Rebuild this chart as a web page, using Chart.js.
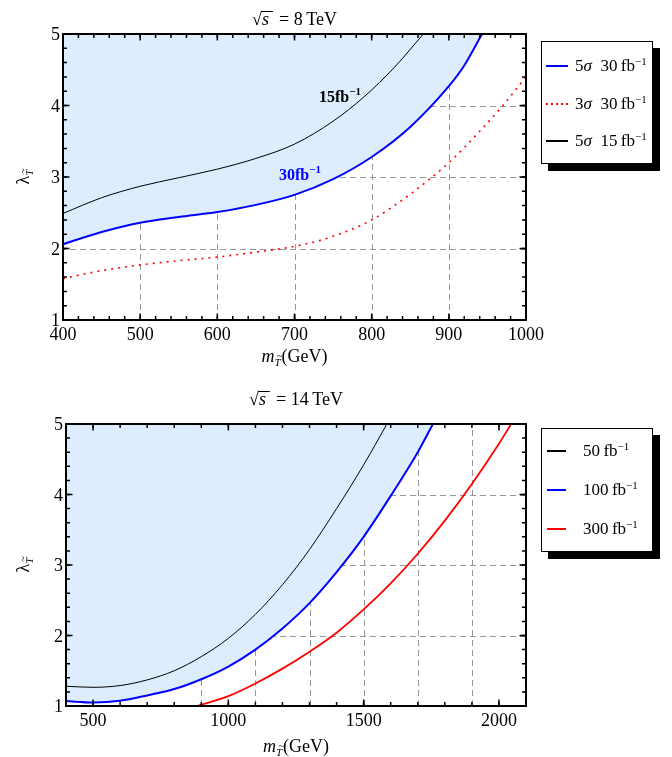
<!DOCTYPE html>
<html>
<head>
<meta charset="utf-8">
<script src="https://cdn.jsdelivr.net/npm/chart.js@4"></script>
<style>
  body { margin: 0; background: #fff; }
  #page { position: relative; width: 672px; height: 757px; }
  canvas { position: absolute; left: 0; }
  .legend { position: absolute; left: 541px; width: 110px; background: #fff; border: 1px solid #000;
    box-shadow: 7px 7px 0 #000; font-family: 'Liberation Serif', 'Times New Roman', serif; font-size: 17px; color: #000; }
  .row { position: absolute; left: 0; right: 0; height: 20px; line-height: 20px; white-space: nowrap; }
  .swatch { position: absolute; top: 9px; height: 2px; }
  .txt { position: absolute; top: 0; }
  sup { font-size: 11px; vertical-align: 6px; line-height: 0; }
</style>
</head>
<body>
<div id="page">
  <canvas id="chart8" width="672" height="380" style="top:0"></canvas>
  <canvas id="chart14" width="672" height="377" style="top:380px"></canvas>
  <div class="legend" id="legend8" style="top:41px;height:121px"></div>
  <div class="legend" id="legend14" style="top:428px;height:122px"></div>
</div>
<script>
// sqrt(s) = 8 TeV
let blue8X = [400, 450, 500, 550, 600, 650, 700, 750, 800, 850, 900, 920, 943]
let blue8Y = [2.06, 2.23, 2.36, 2.44, 2.51, 2.61, 2.75, 2.97, 3.28, 3.70, 4.27, 4.56, 5.0]
let red8X = [400, 450, 500, 550, 600, 650, 700, 750, 800, 850, 900, 940, 970, 1000]
let red8Y = [1.58, 1.69, 1.77, 1.83, 1.88, 1.95, 2.03, 2.17, 2.40, 2.76, 3.20, 3.64, 4.00, 4.40]
let black8X = [400, 450, 500, 550, 600, 650, 700, 750, 790, 830, 867]
let black8Y = [2.49, 2.71, 2.87, 2.99, 3.11, 3.26, 3.46, 3.78, 4.12, 4.54, 5.0]
let legend8 = ['5σ\u00a0\u00a030\u2009fb', '3σ\u00a0\u00a030\u2009fb', '5σ\u00a0\u00a015\u2009fb']
let notes8 = ['15fb', '30fb']
let notes8X = [759, 707]
let notes8Y = [4.13, 3.04]

// sqrt(s) = 14 TeV
let black14X = [400, 500, 600, 700, 800, 900, 1000, 1100, 1200, 1300, 1400, 1500, 1586]
let black14Y = [1.28, 1.265, 1.29, 1.37, 1.50, 1.70, 1.96, 2.30, 2.72, 3.22, 3.80, 4.42, 5.0]
let blue14X = [400, 500, 600, 700, 800, 900, 1000, 1100, 1200, 1300, 1400, 1500, 1600, 1700, 1756]
let blue14Y = [1.07, 1.05, 1.075, 1.15, 1.24, 1.38, 1.56, 1.80, 2.10, 2.46, 2.90, 3.40, 3.98, 4.60, 5.0]
let red14X = [885, 1000, 1100, 1200, 1300, 1400, 1500, 1600, 1700, 1800, 1900, 2000, 2045]
let red14Y = [1.0, 1.14, 1.32, 1.53, 1.77, 2.04, 2.37, 2.74, 3.16, 3.63, 4.15, 4.72, 5.0]
let legend14 = ['50\u2009fb', '100\u2009fb', '300\u2009fb']

// axes
let xTicks8 = [400, 500, 600, 700, 800, 900, 1000]
let xTicks14 = [500, 1000, 1500, 2000]
let yTicks = [1, 2, 3, 4, 5]
let gridX8 = [500, 600, 700, 800, 900]
let gridX14 = [900, 1100, 1300, 1500, 1700, 1900]
let gridY = [2, 3, 4]

const serif = "'Liberation Serif', 'Times New Roman', serif"
const shade = 'rgb(221, 237, 253)'

function lineDs(label, xs, ys, color, width, extra) {
  return Object.assign({
    label: label,
    data: xs.map((x, i) => ({ x: x, y: ys[i] })),
    borderColor: color,
    borderWidth: width,
    pointRadius: 0,
    showLine: true,
    cubicInterpolationMode: 'monotone',
    fill: false
  }, extra)
}

// draws a run of text pieces (font / vertical shift / tilde / overbar)
function drawParts(ctx, parts, x, y, align) {
  let total = 0
  parts.forEach(p => { ctx.font = p.font; p.w = ctx.measureText(p.t).width + (p.gap || 0); total += p.w })
  let cx = align === 'center' ? x - total / 2 : x
  ctx.textAlign = 'left'
  ctx.textBaseline = 'alphabetic'
  parts.forEach(p => {
    ctx.font = p.font
    ctx.fillText(p.t, cx, y + (p.dy || 0))
    if (p.tilde) {
      ctx.font = '10px ' + serif
      ctx.fillText('~', cx + p.w / 2 - 1, y + (p.dy || 0) - 7)
    }
    if (p.bar) {
      ctx.fillRect(cx - 1, y - 14, p.w + 3, 1)
    }
    cx += p.w
  })
}

const framePlugin = {
  id: 'frame',
  beforeDraw(chart, args, opts) {
    const { ctx, chartArea: a, scales: { x, y } } = chart
    ctx.save()
    ctx.strokeStyle = 'rgb(150,150,150)'
    ctx.lineWidth = 1
    ctx.setLineDash([6, 4])
    opts.gridX.forEach(v => {
      const px = Math.round(x.getPixelForValue(v)) + 0.5
      ctx.beginPath(); ctx.moveTo(px, a.bottom); ctx.lineTo(px, a.top); ctx.stroke()
    })
    opts.gridY.forEach(v => {
      const py = Math.round(y.getPixelForValue(v)) + 0.5
      ctx.beginPath(); ctx.moveTo(a.right, py); ctx.lineTo(a.left, py); ctx.stroke()
    })
    ctx.restore()
  },
  afterDraw(chart, args, opts) {
    const { ctx, chartArea: a, scales: { x, y } } = chart
    ctx.save()
    ctx.strokeStyle = '#000'
    ctx.fillStyle = '#000'
    ctx.lineWidth = 1.5

    // minor + major ticks on all four sides, pointing inward
    const tick = (v, len, horiz) => {
      ctx.beginPath()
      if (horiz) {
        const px = x.getPixelForValue(v)
        ctx.moveTo(px, a.bottom); ctx.lineTo(px, a.bottom - len)
        ctx.moveTo(px, a.top); ctx.lineTo(px, a.top + len)
      } else {
        const py = y.getPixelForValue(v)
        ctx.moveTo(a.left, py); ctx.lineTo(a.left + len, py)
        ctx.moveTo(a.right, py); ctx.lineTo(a.right - len, py)
      }
      ctx.stroke()
    }
    for (let v = x.min; v <= x.max + 1e-6; v += opts.xMinor) tick(v, 4, true)
    for (let v = y.min; v <= y.max + 1e-6; v += 0.2) tick(v, 4, false)
    opts.xTicks.forEach(v => tick(v, 6.5, true))
    yTicks.forEach(v => tick(v, 6.5, false))

    ctx.lineWidth = 2
    ctx.strokeRect(a.left, a.top, a.right - a.left, a.bottom - a.top)

    // tick labels
    ctx.font = '18px ' + serif
    ctx.textBaseline = 'alphabetic'
    ctx.textAlign = 'center'
    opts.xTicks.forEach(v => ctx.fillText(String(v), x.getPixelForValue(v), a.bottom + 20))
    ctx.textAlign = 'right'
    yTicks.forEach(v => ctx.fillText(String(v), a.left - 3, y.getPixelForValue(v) + 6))

    const mid = (a.left + a.right) / 2
    // title
    drawParts(ctx, [
      { t: '√', font: '18px ' + serif },
      { t: 's', font: 'italic 18px ' + serif, bar: true, gap: 2 },
      { t: '\u2009 = ' + opts.energy + '\u2009TeV', font: '18px ' + serif }
    ], mid, 25, 'center')
    // x axis title
    drawParts(ctx, [
      { t: 'm', font: 'italic 18px ' + serif },
      { t: 'T', font: 'italic 11px ' + serif, dy: 4, tilde: true, gap: 1 },
      { t: '(GeV)', font: '18px ' + serif }
    ], mid, opts.xTitleY, 'center')
    // y axis title
    ctx.save()
    ctx.translate(29, (a.top + a.bottom) / 2)
    ctx.rotate(-Math.PI / 2)
    drawParts(ctx, [
      { t: 'λ', font: '18px ' + serif },
      { t: 'T', font: 'italic 11px ' + serif, dy: 4, tilde: true }
    ], 0, 0, 'center')
    ctx.restore()

    // curve annotations
    ;(opts.notes || []).forEach((n, i) => {
      ctx.fillStyle = opts.noteColors[i]
      drawParts(ctx, [
        { t: n, font: 'bold 16px ' + serif },
        { t: '−1', font: 'bold 11px ' + serif, dy: -7 }
      ], x.getPixelForValue(opts.notesX[i]), y.getPixelForValue(opts.notesY[i]) + 6, 'center')
    })
    ctx.restore()
  }
}

function makeChart(id, datasets, xMax, padding, frame) {
  return new Chart(document.getElementById(id), {
    type: 'scatter',
    data: { datasets: datasets },
    options: {
      responsive: false,
      animation: false,
      layout: { padding: padding },
      scales: {
        x: { type: 'linear', min: 400, max: xMax, display: false },
        y: { type: 'linear', min: 1, max: 5, display: false }
      },
      plugins: {
        legend: { display: false },
        tooltip: { enabled: false },
        filler: { drawTime: 'beforeDatasetsDraw' },
        frame: frame
      }
    },
    plugins: [framePlugin]
  })
}

const chart8 = makeChart('chart8', [
  lineDs(legend8[0], blue8X, blue8Y, 'rgb(0,0,255)', 2, { fill: 'end', backgroundColor: shade }),
  lineDs(legend8[1], red8X, red8Y, 'rgb(255,0,0)', 1.6, { borderDash: [2, 5] }),
  lineDs(legend8[2], black8X, black8Y, '#000', 1)
], 1000, { left: 63, right: 146, top: 34, bottom: 60 }, {
  energy: '8', xTicks: xTicks8, xMinor: 20, gridX: gridX8, gridY: gridY, xTitleY: 362,
  notes: notes8, notesX: notes8X, notesY: notes8Y, noteColors: ['#000', 'rgb(0,0,255)']
})

const chart14 = makeChart('chart14', [
  lineDs(legend14[1], blue14X, blue14Y, 'rgb(0,0,255)', 2, { fill: 'end', backgroundColor: shade }),
  lineDs(legend14[0], black14X, black14Y, '#000', 1),
  lineDs(legend14[2], red14X, red14Y, 'rgb(255,0,0)', 1.8)
], 2100, { left: 66, right: 146, top: 44, bottom: 51 }, {
  energy: '14', xTicks: xTicks14, xMinor: 100, gridX: gridX14, gridY: gridY, xTitleY: 372
})

// html legends with drop shadow
function buildLegend(el, labels, colors, dotted, rowTops, swLeft, swWidth, textLeft) {
  labels.forEach((label, i) => {
    const row = document.createElement('div')
    row.className = 'row'
    row.style.top = rowTops[i] + 'px'
    const sw = document.createElement('div')
    sw.className = 'swatch'
    sw.style.left = swLeft + 'px'
    sw.style.width = swWidth + 'px'
    sw.style.background = dotted[i]
      ? `repeating-linear-gradient(to right, ${colors[i]} 0 2px, transparent 2px 5px)`
      : colors[i]
    const txt = document.createElement('div')
    txt.className = 'txt'
    txt.style.left = textLeft + 'px'
    txt.innerHTML = label.replace('σ', '<i>σ</i>') + '<sup>−1</sup>'
    row.appendChild(sw)
    row.appendChild(txt)
    el.appendChild(row)
  })
}

buildLegend(document.getElementById('legend8'), legend8,
  ['rgb(0,0,255)', 'rgb(255,0,0)', '#000'], [false, true, false], [14, 52, 89], 4, 22, 33)
buildLegend(document.getElementById('legend14'), legend14,
  ['#000', 'rgb(0,0,255)', 'rgb(255,0,0)'], [false, false, false], [12, 51, 90], 5, 19, 41)
</script>
</body>
</html>
